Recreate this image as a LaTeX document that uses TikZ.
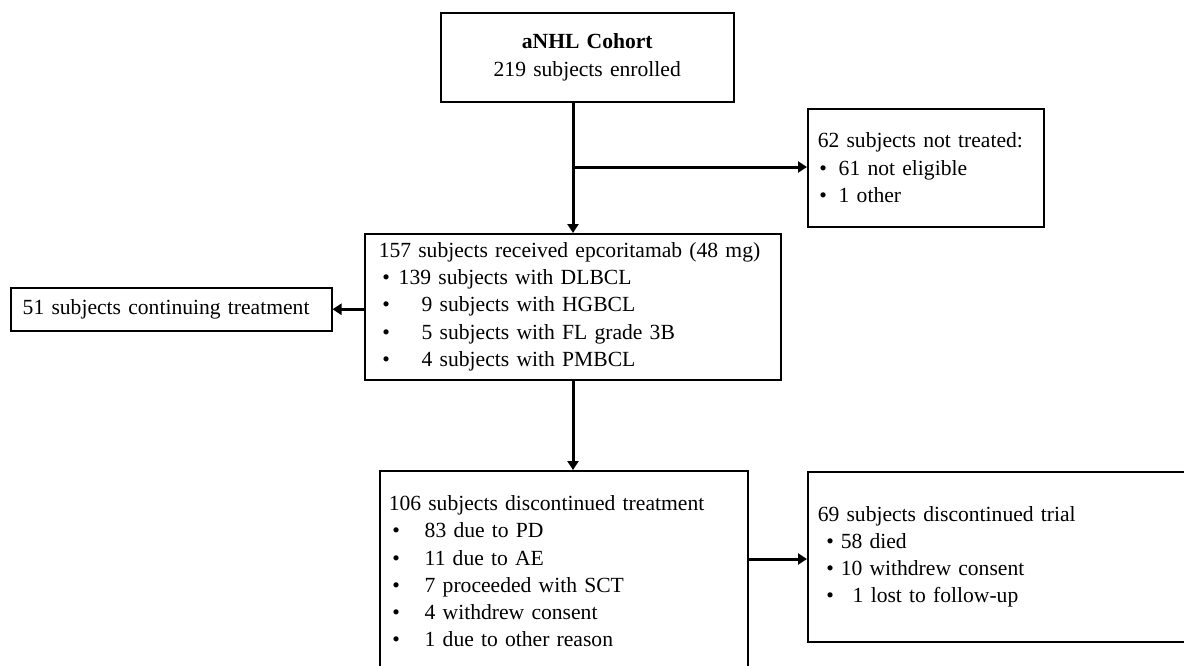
\documentclass[tikz,border=0pt]{standalone}
\usepackage{fontspec}
\setmainfont{Liberation Serif}
\usetikzlibrary{arrows.meta,calc}

% bullet line: #1 = bullet offset, #2 = text offset, #3 = item text
\newcommand{\bitem}[3]{\makebox[#2][l]{\hspace*{#1}\textbullet}#3}

\begin{document}
\begin{tikzpicture}[x=1pt,y=-1pt,
  font=\fontsize{21.6}{27.2}\selectfont,
  box/.style={draw=black, line width=1.5pt, rectangle, anchor=north west,
    align=left, inner ysep=0pt},
  flow/.style={draw=black, line width=3pt,
    -{Triangle[width=11pt,length=9pt]}}]
\useasboundingbox[fill=white] (0,0) rectangle (1184,665);

% cohort
\node[box, align=center, text width=293pt, inner xsep=0pt,
  minimum height=89pt] (cohort) at (440,12)
  {\textbf{aNHL Cohort}\\219 subjects enrolled};

% not treated
\node[box, text width=216pt, inner xsep=10pt, minimum height=118pt]
  (nottreated) at (807,108)
  {62 subjects not treated:\\
   \bitem{1.5pt}{21pt}{61 not eligible}\\
   \bitem{1.5pt}{21pt}{1 other}};

% received treatment
\node[box, text width=388pt, inner xsep=14pt, minimum height=146pt]
  (recv) at (364,233)
  {157 subjects received epcoritamab (48 mg)\\
   \bitem{3.5pt}{20pt}{139 subjects with DLBCL}\\
   \bitem{3.5pt}{43pt}{9 subjects with HGBCL}\\
   \bitem{3.5pt}{43pt}{5 subjects with FL grade 3B}\\
   \bitem{3.5pt}{43pt}{4 subjects with PMBCL}};

% continuing
\node[box, text width=297pt, inner xsep=12pt, minimum height=43pt]
  (cont) at (10,287) {51 subjects continuing treatment};

% discontinued treatment
\node[box, text width=350pt, inner xsep=9pt, minimum height=201pt]
  (disc) at (379,470)
  {106 subjects discontinued treatment\\
   \bitem{3.5pt}{36pt}{83 due to PD}\\
   \bitem{3.5pt}{36pt}{11 due to AE}\\
   \bitem{3.5pt}{36pt}{7 proceeded with SCT}\\
   \bitem{3.5pt}{36pt}{4 withdrew consent}\\
   \bitem{3.5pt}{36pt}{1 due to other reason}};

% discontinued trial
\node[box, text width=359pt, inner xsep=10pt, minimum height=170pt]
  (trial) at (807,471)
  {69 subjects discontinued trial\\
   \bitem{8.5pt}{23pt}{58 died}\\
   \bitem{8.5pt}{23pt}{10 withdrew consent}\\
   \bitem{8.5pt}{35pt}{1 lost to follow-up}};

% connectors
\coordinate (spine) at (573,0);
\coordinate (branch) at (573,167);
\draw[flow] (cohort.south -| spine) -- (recv.north -| spine);
\draw[flow] (branch) -- (nottreated.west |- branch);
\draw[flow] (recv.west |- cont.east) -- (cont.east);
\draw[flow] (recv.south -| spine) -- (disc.north -| spine);
\coordinate (side) at (0,559);
\draw[flow] (disc.east |- side) -- (trial.west |- side);
\end{tikzpicture}
\end{document}
